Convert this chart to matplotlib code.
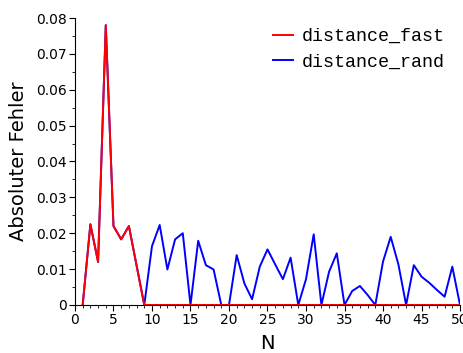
import numpy as np
import matplotlib
matplotlib.use("Agg")
import matplotlib.pyplot as plt
from matplotlib.ticker import MultipleLocator, FuncFormatter

# data
n = np.arange(1, 51)
distance_fast = [0, 0.0225, 0.012, 0.078, 0.022, 0.0183, 0.022, 0.011, 0] + [0] * 41
distance_rand = [0, 0.0225, 0.012, 0.078, 0.022, 0.0183, 0.022, 0.011, 0,
                 0.0164, 0.0223, 0.0099, 0.0183, 0.0200, 0, 0.0179, 0.0111, 0.0099, 0, 0,
                 0.0139, 0.0060, 0.0016, 0.0107, 0.0155, 0.0113, 0.0072, 0.0132, 0, 0.0072,
                 0.0197, 0, 0.0093, 0.0144, 0, 0.0039, 0.0053, 0.0028, 0, 0.0121,
                 0.0190, 0.0113, 0, 0.0111, 0.0079, 0.0062, 0.0042, 0.0023, 0.0107, 0]

fig = plt.figure(figsize=(4.64, 3.53), dpi=100)
ax = fig.add_axes([0.1616, 0.136, 0.8298, 0.813])

ax.plot(n, distance_rand, color="#0000ff", lw=1.4, label="distance_rand")
ax.plot(n, distance_fast, color="#ff0000", lw=1.4, label="distance_fast")

ax.set_xlim(0, 50)
ax.set_ylim(0, 0.08)
ax.xaxis.set_major_locator(MultipleLocator(5))
ax.xaxis.set_minor_locator(MultipleLocator(1))
ax.yaxis.set_major_locator(MultipleLocator(0.01))
ax.yaxis.set_minor_locator(MultipleLocator(0.005))
ax.yaxis.set_major_formatter(FuncFormatter(lambda v, p: "%g" % round(v, 3)))
ax.tick_params(which="major", length=4, labelsize=10, pad=2)
ax.tick_params(which="minor", length=2.5)

for s in ["top", "right"]:
    ax.spines[s].set_visible(False)

ax.set_xlabel("N", fontsize=14, labelpad=5)
ax.set_ylabel("Absoluter Fehler", fontsize=14, labelpad=6)

h, l = ax.get_legend_handles_labels()
ax.legend(h[::-1], l[::-1], loc="upper right", frameon=False,
          prop={"family": "Liberation Mono", "size": 13.2},
          handlelength=1.1, handletextpad=0.5, labelspacing=0.45,
          borderaxespad=0, bbox_to_anchor=(0.98, 0.99))

fig.savefig("out.png", dpi=100)
